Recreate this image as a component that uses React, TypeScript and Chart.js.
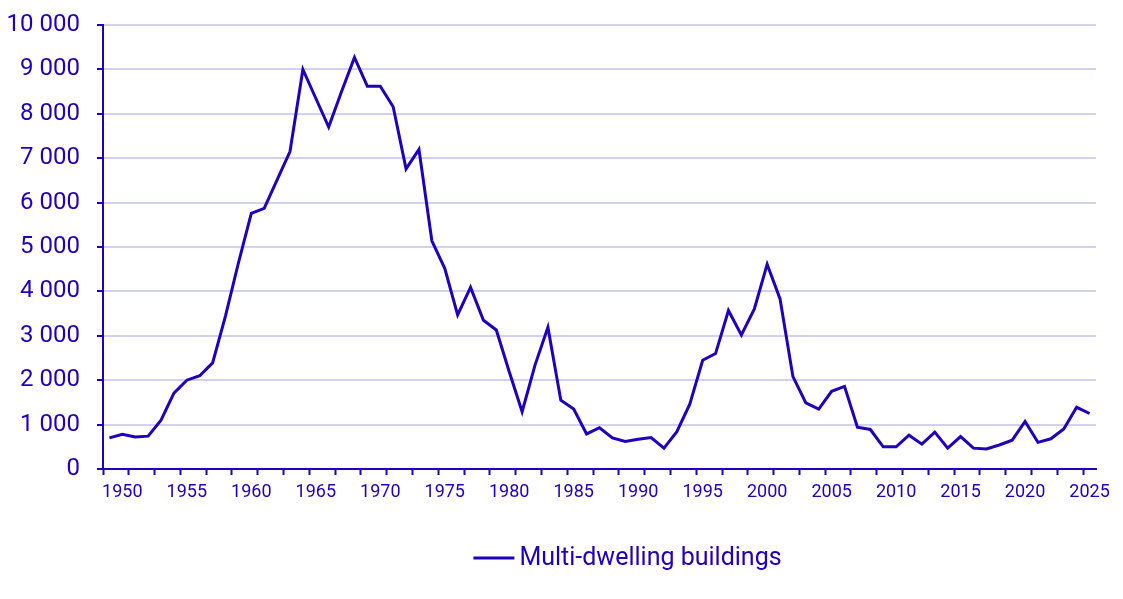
import React, { useEffect, useRef } from "react";
import { Chart, registerables } from "chart.js";

Chart.register(...registerables);

const years: string[] = [];
for (let y = 1949; y <= 2025; y++) years.push(String(y));

const multiDwelling: number[] = [
  700, 780, 720, 740, 1100, 1710, 2000, 2100, 2390, 3450, // 1949-1958
  4640, 5760, 5870, 6510, 7150, 9000, 8350, 7700, 8500, 9270, // 1959-1968
  8620, 8620, 8160, 6760, 7200, 5140, 4520, 3470, 4090, 3350, // 1969-1978
  3130, 2190, 1290, 2340, 3190, 1550, 1350, 790, 930, 700, // 1979-1988
  620, 670, 710, 470, 840, 1460, 2450, 2600, 3570, 3020, // 1989-1998
  3600, 4610, 3830, 2080, 1490, 1350, 1750, 1860, 940, 890, // 1999-2008
  500, 500, 760, 560, 830, 470, 730, 470, 450, 540, // 2009-2018
  650, 1070, 600, 680, 900, 1390, 1250, // 2019-2025
];

const seriesLabel = "Multi-dwelling buildings";
const yTicksMax = 10000;
const yStep = 1000;

const BLUE = "#1e00be";
const GRID = "#d2d2f0";
const FONT = "Roboto";

function fmt(v: number): string {
  return String(v).replace(/\B(?=(\d{3})+(?!\d))/g, " ");
}

const legendPlugin = {
  id: "customLegend",
  afterDraw(chart: any) {
    const { ctx, chartArea } = chart;
    const ds = chart.data.datasets[0];
    ctx.save();
    ctx.font = `25px ${FONT}`;
    const textW = ctx.measureText(ds.label).width;
    const lineW = 41;
    const gap = 5;
    const total = lineW + gap + textW;
    const cx = (chartArea.left + chartArea.right) / 2 + 28;
    const x0 = cx - total / 2;
    const y = chartArea.bottom + 89;
    ctx.strokeStyle = ds.borderColor;
    ctx.lineWidth = 3;
    ctx.beginPath();
    ctx.moveTo(x0, y);
    ctx.lineTo(x0 + lineW, y);
    ctx.stroke();
    ctx.fillStyle = BLUE;
    ctx.textBaseline = "middle";
    ctx.textAlign = "left";
    ctx.fillText(ds.label, x0 + lineW + gap, y + 1);
    ctx.restore();
  },
};

export default function App() {
  const ref = useRef<HTMLCanvasElement | null>(null);
  useEffect(() => {
    document.body.style.margin = "0";
    if (!ref.current) return;
    const chart = new Chart(ref.current, {
      type: "line",
      data: {
        labels: years,
        datasets: [
          {
            label: seriesLabel,
            data: multiDwelling,
            borderColor: BLUE,
            backgroundColor: BLUE,
            borderWidth: 3,
            pointRadius: 0,
            pointHoverRadius: 0,
            tension: 0,
          },
        ],
      },
      plugins: [legendPlugin],
      options: {
        animation: false,
        responsive: true,
        maintainAspectRatio: false,
        layout: { padding: { top: 25, right: 27, bottom: 96, left: 0 } },
        plugins: {
          tooltip: { enabled: false },
          legend: { display: false },
        },
        scales: {
          x: {
            type: "category",
            offset: true,
            border: { color: BLUE, width: 2 },
            afterFit: (scale: any) => {
              scale.height = 34;
              scale.paddingLeft = 0;
              scale.paddingRight = 0;
            },
            grid: {
              offset: true,
              drawOnChartArea: false,
              drawTicks: true,
              tickLength: 6,
              tickWidth: 2,
              tickColor: (ctx: any) =>
                typeof ctx.index === "number" && ctx.index % 2 === 0 ? BLUE : "rgba(0,0,0,0)",
            },
            ticks: {
              autoSkip: false,
              maxRotation: 0,
              minRotation: 0,
              color: BLUE,
              padding: 7,
              font: { family: FONT, size: 18 },
              callback: function (this: any, _v: any, i: number) {
                const y = Number(years[i]);
                return y % 5 === 0 ? years[i] : "";
              },
            },
          },
          y: {
            min: 0,
            max: yTicksMax,
            border: { color: BLUE, width: 2 },
            afterFit: (scale: any) => {
              scale.width = 103;
              scale.paddingTop = 0;
              scale.paddingBottom = 0;
            },
            grid: {
              color: GRID,
              lineWidth: 2,
              tickLength: 6,
              tickColor: BLUE,
              tickWidth: 2,
            },
            ticks: {
              stepSize: yStep,
              color: BLUE,
              padding: 17,
              font: { family: FONT, size: 24 },
              callback: (v: any) => fmt(Number(v)),
            },
          },
        },
      },
    });
    return () => chart.destroy();
  }, []);
  return (
    <div style={{ position: "fixed", left: 0, top: 0, width: 1123, height: 599 }}>
      <canvas ref={ref} />
    </div>
  );
}
